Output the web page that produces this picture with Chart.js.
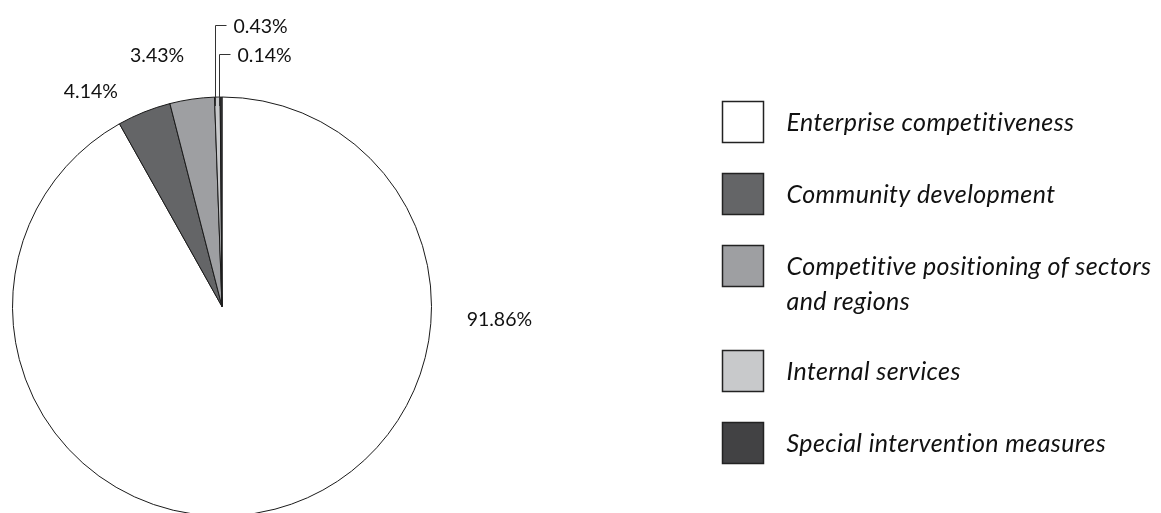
<!DOCTYPE html>
<html>
<head>
<meta charset="utf-8">
<title>Expenditure by program</title>
<script src="https://cdn.jsdelivr.net/npm/chart.js@4.4.1/dist/chart.umd.min.js"></script>
<style>
  html, body { margin: 0; padding: 0; background: #fff; overflow: hidden; }
  #wrap { width: 1161px; height: 513px; overflow: hidden; }
  canvas { display: block; }
</style>
</head>
<body>
<div id="wrap"><canvas id="pie" width="1161" height="540"></canvas></div>
<script>
// Data
const categories = [
  "Enterprise competitiveness",
  "Community development",
  ["Competitive positioning of sectors", "and regions"],
  "Internal services",
  "Special intervention measures"
];
const shares = [91.86, 4.14, 3.43, 0.43, 0.14];
const sliceColours = ["#ffffff", "#646567", "#9e9fa2", "#c8c9cb", "#424244"];

// where each percentage sits, in pie radii from the centre;
// the tiny slices get an elbow leader line up to leaderY instead
const labelSpots = [
  { x: 1.324, y: 0.06 },
  { x: -0.626, y: -1.029 },
  { x: -0.31, y: -1.199 },
  { leaderY: -1.345 },
  { leaderY: -1.207 }
];

const LABEL_SIZE = 19.5;
const LEGEND_SIZE = 25;

// percentage labels around the pie
const pctLabels = {
  id: "pctLabels",
  afterDatasetsDraw(chart) {
    const ctx = chart.ctx;
    const arcs = chart.getDatasetMeta(0).data;
    ctx.save();
    ctx.font = LABEL_SIZE + "px Lato";
    ctx.fillStyle = "#111";
    ctx.strokeStyle = "#333";
    ctx.lineWidth = 1;
    ctx.textBaseline = "alphabetic";
    const capHalf = LABEL_SIZE * 0.36;
    arcs.forEach((arc, i) => {
      const { x, y, startAngle, endAngle, outerRadius } =
        arc.getProps(["x", "y", "startAngle", "endAngle", "outerRadius"], true);
      const spot = labelSpots[i];
      const text = shares[i].toFixed(2) + "%";
      if (spot.leaderY === undefined) {
        ctx.textAlign = "center";
        ctx.fillText(text, x + spot.x * outerRadius, y + spot.y * outerRadius + capHalf);
        return;
      }
      const mid = (startAngle + endAngle) / 2;
      const lx = Math.round(x + Math.cos(mid) * outerRadius) - 1.5;
      const ly0 = y + Math.sin(mid) * outerRadius + 9;
      const ly1 = Math.round(y + spot.leaderY * outerRadius) + 0.5;
      ctx.beginPath();
      ctx.moveTo(lx, ly0);
      ctx.lineTo(lx, ly1);
      ctx.lineTo(lx + 11, ly1);
      ctx.stroke();
      ctx.textAlign = "left";
      ctx.fillText(text, lx + 18, ly1 + capHalf);
    });
    ctx.restore();
  }
};

// legend on the right, swatch + italic text
const legendBox = {
  id: "legendBox",
  afterDraw(chart) {
    const ctx = chart.ctx;
    const left = 722.5, box = 41, step = 72, extraLine = 33, lineH = 35;
    let top = 101.5;
    ctx.save();
    ctx.font = "italic " + LEGEND_SIZE + "px Lato";
    ctx.letterSpacing = "0.4px";
    ctx.textAlign = "left";
    ctx.textBaseline = "alphabetic";
    categories.forEach((cat, i) => {
      const lines = Array.isArray(cat) ? cat : [cat];
      ctx.fillStyle = sliceColours[i];
      ctx.fillRect(left, top, box, box);
      ctx.lineWidth = 1.5;
      ctx.strokeStyle = "#222";
      ctx.strokeRect(left, top, box, box);
      ctx.fillStyle = "#111";
      lines.forEach((ln, k) => {
        ctx.fillText(ln, left + 64, top + box / 2 + LEGEND_SIZE * 0.34 + k * lineH);
      });
      top += step + (lines.length - 1) * extraLine;
    });
    ctx.restore();
  }
};

new Chart(document.getElementById("pie"), {
  type: "pie",
  data: {
    labels: categories,
    datasets: [{
      data: shares,
      backgroundColor: sliceColours,
      borderColor: "#1a1a1a",
      borderWidth: 1,
      hoverOffset: 0
    }]
  },
  options: {
    responsive: false,
    animation: false,
    layout: { padding: { left: 12, right: 729, top: 96.5, bottom: 23.5 } },
    plugins: {
      legend: { display: false },
      tooltip: { enabled: false }
    }
  },
  plugins: [pctLabels, legendBox]
});
</script>
</body>
</html>
